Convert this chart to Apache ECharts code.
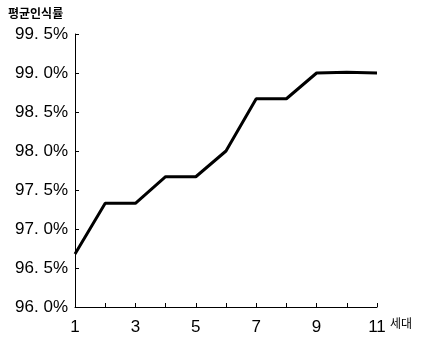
<!DOCTYPE html>
<html><head><meta charset="utf-8">
<script src="https://cdn.jsdelivr.net/npm/echarts@6/dist/echarts.min.js"></script>
<style>html,body{margin:0;padding:0;background:#fff}#c{width:422px;height:344px}</style>
</head><body><div id="c"></div>
<script>
const generations = ['1','2','3','4','5','6','7','8','9','10','11'];
const recognitionRate = [96.68, 97.33, 97.33, 97.67, 97.67, 98.0, 98.67, 98.67, 99.0, 99.01, 99.0];
const yTitle = '평균인식률';
const xTitle = '세대';

const chart = echarts.init(document.getElementById('c'));
chart.setOption({
  backgroundColor: '#fff',
  animation: false,
  grid: {left: 75, right: 45, top: 34, bottom: 37},
  graphic: [
    {type: 'text', left: 8, top: 7, style: {text: yTitle, font: 'bold 12px "Noto Sans CJK KR"', fill: '#000'}},
    {type: 'text', left: 390, top: 317, style: {text: xTitle, font: '12px "Noto Sans CJK KR"', fill: '#000'}}
  ],
  xAxis: {
    type: 'category', data: generations, boundaryGap: false,
    axisLine: {lineStyle: {color: '#000', width: 1}},
    axisTick: {inside: true, length: 4, interval: 0, lineStyle: {color: '#000'}},
    axisLabel: {interval: 1, color: '#000', fontSize: 17, fontFamily: 'Liberation Sans', margin: 12},
    splitLine: {show: false}
  },
  yAxis: {
    type: 'value', min: 96, max: 99.5, interval: 0.5,
    axisLine: {show: true, lineStyle: {color: '#000', width: 1}},
    axisTick: {show: true, inside: true, length: 4, lineStyle: {color: '#000'}},
    axisLabel: {color: '#000', fontSize: 17, fontFamily: 'Liberation Sans', margin: 7,
      formatter: v => v.toFixed(1).replace('.', '. ') + '%'},
    splitLine: {show: false}
  },
  series: [{
    type: 'line', data: recognitionRate, showSymbol: false, symbol: 'none',
    lineStyle: {color: '#000', width: 3}
  }]
});
</script></body></html>
